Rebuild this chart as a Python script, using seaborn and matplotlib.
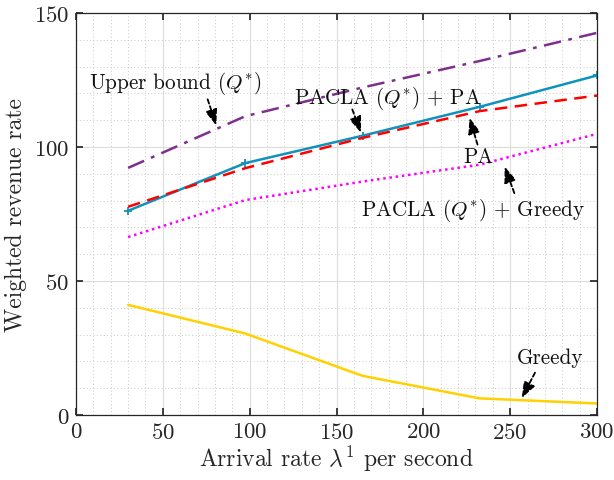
import matplotlib
matplotlib.use("Agg")
import matplotlib.pyplot as plt
import seaborn as sns
import pandas as pd
from matplotlib.ticker import MultipleLocator

arrival = [30, 97.5, 165, 232.5, 300]
upper_bound = [92.2, 111.5, 122.2, 132.1, 142.6]
pacla_pa = [76.2, 94.0, 104.2, 115.0, 126.7]
pa = [77.7, 92.1, 103.4, 113.4, 119.2]
pacla_greedy = [66.4, 80.2, 87.1, 93.4, 104.9]
greedy = [41.1, 30.4, 14.6, 6.2, 4.3]

sns.set_theme(style="ticks")
plt.rcParams['font.family'] = ['serif']
plt.rcParams['font.serif'] = ['cmr10', 'DejaVu Serif']
plt.rcParams['mathtext.fontset'] = 'cm'
plt.rcParams['axes.formatter.use_mathtext'] = True

fig = plt.figure(figsize=(6.14, 4.81), dpi=100)
ax = fig.add_axes([76 / 614, 65 / 481, 521 / 614, 402 / 481])

series = [
    (upper_bound, "#7E2F8E", (0, (7, 3, 1.5, 3)), None),
    (pacla_pa, "#0F93BD", "-", "+"),
    (pa, "#FF0000", (0, (5, 3)), None),
    (pacla_greedy, "#FF00FF", (0, (1, 1.5)), None),
    (greedy, "#FFD100", "-", None),
]
for vals, col, ls, mk in series:
    df = pd.DataFrame({"x": arrival, "y": vals})
    sns.lineplot(data=df, x="x", y="y", ax=ax, color=col, linewidth=1.8,
                 marker=mk, markersize=6, markeredgewidth=1.3,
                 markeredgecolor=col, linestyle="-")
    if not isinstance(ls, str):
        ax.lines[-1].set_linestyle(ls)

ax.set_xlim(0, 300)
ax.set_ylim(0, 150)
ax.xaxis.set_major_locator(MultipleLocator(50))
ax.yaxis.set_major_locator(MultipleLocator(50))
ax.xaxis.set_minor_locator(MultipleLocator(10))
ax.yaxis.set_minor_locator(MultipleLocator(10))
ax.grid(which='major', color='#DCDCDC', linewidth=0.8, linestyle='-')
ax.grid(which='minor', color='#C8C8C8', linewidth=0.7, linestyle=(0, (1, 2.5)))
ax.set_axisbelow(True)
ax.tick_params(which='major', direction='in', top=True, right=True, length=5,
               labelsize=16.5, color='#262626', labelcolor='#262626', pad=5)
ax.tick_params(which='minor', length=0)
for s in ax.spines.values():
    s.set_visible(True)
    s.set_color('#262626')
    s.set_linewidth(0.9)

ax.set_xlabel(r"Arrival rate $\lambda^1$ per second", fontsize=17, color='#262626', labelpad=1)
ax.set_ylabel("Weighted revenue rate", fontsize=17, color='#262626', labelpad=5)

arrow = dict(arrowstyle="-|>,head_length=0.8,head_width=0.3", color='black',
             lw=1.3, linestyle=(0, (2.5, 1.5)), shrinkA=0, shrinkB=0)

def note(text, xy, xytext, tx, ty):
    ax.annotate("", xy=xy, xytext=xytext, arrowprops=arrow)
    ax.text(tx, ty, text, fontsize=15.2, ha='center', va='center', color='#111111')

note(r"Upper bound $(Q^{*})$", (80.8, 108), (75.8, 117.8), 57, 124)
note(r"PACLA $(Q^{*})$ + PA", (164.1, 105.3), (159.1, 114), 179.4, 118.4)
note("PA", (226.6, 110.9), (231.2, 100.9), 231.5, 96.5)
note(r"PACLA $(Q^{*})$ + Greedy", (246.8, 92.7), (252.4, 82.8), 228.6, 76.5)
note("Greedy", (256.7, 6.3), (264.3, 15.8), 273.2, 21.5)

fig.savefig("out.png", dpi=100)
